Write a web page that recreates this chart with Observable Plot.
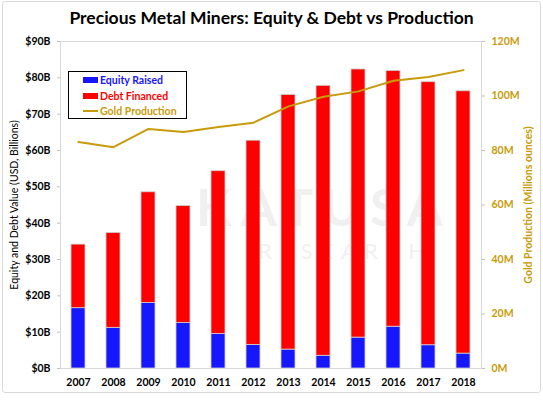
<!DOCTYPE html>
<html>
<head>
<meta charset="utf-8">
<script src="https://cdn.jsdelivr.net/npm/d3@7"></script>
<script src="https://cdn.jsdelivr.net/npm/@observablehq/plot@0.6"></script>
<style>
  html, body { margin: 0; padding: 0; background: #fff; }
  #wrap { position: relative; width: 543px; height: 405px; background: #fff; font-family: Lato, "Open Sans", sans-serif; overflow: hidden; }
  #border { position: absolute; left: 2px; top: 1px; width: 537px; height: 390px; border: 1px solid #d9d9d9; border-radius: 3px; }
  #title { position: relative; z-index: 2; height: 33px; line-height: 36px; text-align: center; font-weight: bold; font-size: 17.5px; color: #000; }
  #chart { position: relative; z-index: 1; }
  .wm { position: absolute; z-index: 0; color: #f0f0f0; font-weight: bold; white-space: nowrap; line-height: 1; }
  #legend { position: absolute; z-index: 3; left: 68px; top: 71px; width: 117px; height: 46px; border: 1px solid #000; background: #fff; font-weight: bold; font-size: 10.5px; }
  .item { position: absolute; left: 14px; height: 14px; line-height: 14px; white-space: nowrap; }
  .sw { display: inline-block; width: 15px; height: 6px; vertical-align: middle; margin-right: 2px; position: relative; top: -1px; }
  .ln { display: inline-block; width: 15px; height: 2px; vertical-align: middle; margin-right: 2px; position: relative; top: -1px; }
  .ylab { position: absolute; z-index: 3; white-space: nowrap; transform: translate(-50%, -50%) rotate(-90deg); font-size: 10.5px; }
</style>
</head>
<body>
<div id="wrap">
  <div id="border"></div>
  <div class="wm" style="left:196px; top:180px; font-size:52px; letter-spacing:9px;">KATUSA</div>
  <div class="wm" style="left:258px; top:240px; font-size:22px; letter-spacing:8px; font-weight:normal;">RESEARCH</div>
  <div id="title">Precious Metal Miners: Equity &amp; Debt vs Production</div>
  <div id="chart"></div>
  <div id="legend"></div>
  <div class="ylab" id="ylabL" style="left:14px; top:205px; color:#000;"></div>
  <div class="ylab" id="ylabR" style="left:528px; top:205px; font-weight:bold;"></div>
</div>
<script>
// ---- data ----
const years = ["2007","2008","2009","2010","2011","2012","2013","2014","2015","2016","2017","2018"];
const equityRaised = [16.6, 11.2, 18.0, 12.5, 9.5, 6.5, 5.2, 3.5, 8.5, 11.5, 6.4, 4.1];      // $B
const debtFinanced = [17.5, 26.1, 30.5, 32.2, 44.8, 56.2, 70.1, 74.3, 73.8, 70.4, 72.4, 72.2]; // $B
const goldProduction = [83.1, 81.2, 87.9, 86.8, 88.6, 90.2, 96.2, 99.7, 101.7, 105.6, 107.0, 109.5]; // M oz
const seriesNames = ["Equity Raised", "Debt Financed", "Gold Production"];
const leftTicks = [0, 10, 20, 30, 40, 50, 60, 70, 80, 90];     // $B
const rightTicks = [0, 20, 40, 60, 80, 100, 120];              // M oz
const leftLabel = "Equity and Debt Value (USD, Billions)";
const rightLabel = "Gold Production (Millions ounces)";

// ---- styles ----
const BLUE = "#1616ff", RED = "#ff0000", GOLD = "#c89b0a";
const leftMax = 90, rightMax = 120, k = leftMax / rightMax;

const rows = [];
years.forEach((y, i) => rows.push({year: y, series: seriesNames[0], value: equityRaised[i]}));
years.forEach((y, i) => rows.push({year: y, series: seriesNames[1], value: debtFinanced[i]}));
const gold = years.map((y, i) => ({year: y, value: goldProduction[i], scaled: goldProduction[i] * k}));

const chart = Plot.plot({
  width: 543,
  height: 372,
  marginTop: 8,
  marginBottom: 37,
  marginLeft: 60,
  marginRight: 62,
  style: {background: "transparent", fontFamily: "Lato, 'Open Sans', sans-serif", fontSize: "10.5px", fontWeight: "bold", overflow: "visible"},
  x: {domain: years, paddingInner: 0.6, paddingOuter: 0.3, label: null},
  y: {domain: [0, leftMax], label: null},
  color: {domain: seriesNames.slice(0, 2), range: [BLUE, RED]},
  marks: [
    Plot.barY(rows, {x: "year", y: "value", fill: "series", stroke: "#d0d0d0", strokeWidth: 0.8}),
    Plot.line(gold, {x: "year", y: "scaled", stroke: GOLD, strokeWidth: 2}),
    Plot.frame({stroke: "#d9d9d9"}),
    Plot.axisY({ticks: leftTicks, tickFormat: d => `$${d}B`, tickSize: 3, tickPadding: 7, stroke: "#bfbfbf", fill: "#000", label: null}),
    Plot.axisY({anchor: "right", ticks: rightTicks.map(v => v * k), tickFormat: d => `${Math.round(d / k)}M`, tickSize: 3, tickPadding: 7, stroke: "#bfbfbf", fill: GOLD, label: null}),
    Plot.axisX({tickSize: 0, tickPadding: 10, fill: "#000", label: null})
  ]
});
document.getElementById("chart").appendChild(chart);

// legend
const legend = document.getElementById("legend");
const colors = [BLUE, RED, GOLD];
seriesNames.forEach((name, i) => {
  const d = document.createElement("div");
  d.className = "item";
  d.style.top = (1 + i * 15.5) + "px";
  d.style.color = colors[i];
  const s = document.createElement("span");
  s.className = i < 2 ? "sw" : "ln";
  s.style.background = colors[i];
  d.appendChild(s);
  d.appendChild(document.createTextNode(name));
  legend.appendChild(d);
});
document.getElementById("ylabL").textContent = leftLabel;
const r = document.getElementById("ylabR");
r.textContent = rightLabel;
r.style.color = GOLD;
</script>
</body>
</html>
